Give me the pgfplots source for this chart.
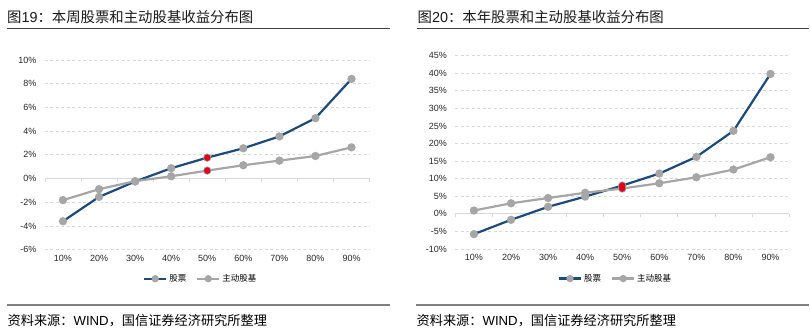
\documentclass[border=0pt]{standalone}
\usepackage{pgfplots}
\pgfplotsset{compat=1.18}
\usepackage{fontspec}
\setmainfont{Liberation Sans}
\newfontfamily\cjk{Noto Sans CJK SC}
\definecolor{cblue}{HTML}{1B4A7C}
\definecolor{cgray}{HTML}{A6A6A6}
\definecolor{cred}{HTML}{E0001E}
\definecolor{cgrid}{HTML}{D9D9D9}
\definecolor{ctxt}{HTML}{262626}
\pgfplotsset{
  mystyle/.style={
    scale only axis,
    axis line style={draw=none},
    tick style={draw=none},
    xmin=-0.5, xmax=8.5,
    xtick={0,...,8},
    xticklabels={10\%,20\%,30\%,40\%,50\%,60\%,70\%,80\%,90\%},
    ymajorgrids,
    major grid style={cgrid, dash pattern=on 3bp off 2.5bp, line width=0.8bp},
    yticklabel={\pgfmathprintnumber{\tick}\%},
    /pgf/number format/assume math mode=true,
    tick label style={font=\fontsize{9bp}{10bp}\selectfont, text=ctxt},
    yticklabel style={xshift=-5bp},
    xticklabel style={yshift=-2bp},
    clip=false,
    legend columns=2,
    legend style={draw=none, fill=none, font=\fontsize{8.5bp}{10bp}\selectfont\cjk,
      /tikz/every even column/.append style={column sep=8bp}, inner sep=0pt},
    legend image code/.code={
      \draw[#1, mark=none] (0bp,0bp) -- (22bp,0bp);
      \draw[#1, only marks, mark size=2.5bp] plot coordinates {(11bp,0bp)};
    },
  },
  blueline/.style={cblue, line width=2.2bp, mark=*, mark size=3bp, mark options={fill=cgray, draw=cgray}},
  grayline/.style={cgray, line width=2.2bp, mark=*, mark size=3bp, mark options={fill=cgray, draw=cgray}},
  redpt/.style={only marks, mark=*, mark size=3bp, cred, mark options={fill=cred, draw=cred}},
}
\begin{document}
\begin{tikzpicture}
\path (0bp,0bp) rectangle (810bp,-334bp);
% titles
\node[anchor=west, inner sep=0pt, text=black!90] at (7bp,-17bp) {\fontsize{14.4bp}{16bp}\selectfont\cjk 图\fontspec{Liberation Sans}19\cjk ：本周股票和主动股基收益分布图};
\node[anchor=west, inner sep=0pt, text=black!90] at (418bp,-17bp) {\fontsize{14.4bp}{16bp}\selectfont\cjk 图\fontspec{Liberation Sans}20\cjk ：本年股票和主动股基收益分布图};
\draw[color=black!75, line width=1.2bp] (7bp,-28.7bp) -- (390bp,-28.7bp);
\draw[color=black!75, line width=1.2bp] (418bp,-28.7bp) -- (810bp,-28.7bp);
\draw[color=black!50, line width=2bp] (7bp,-305bp) -- (390bp,-305bp);
\draw[color=black!50, line width=2bp] (417bp,-305bp) -- (810bp,-305bp);
\node[anchor=west, inner sep=0pt, text=black] at (7.5bp,-321bp) {\fontsize{13.2bp}{15bp}\selectfont\cjk 资料来源：\fontspec{Liberation Sans}WIND\cjk ，国信证券经济研究所整理};
\node[anchor=west, inner sep=0pt, text=black] at (417bp,-321bp) {\fontsize{13.2bp}{15bp}\selectfont\cjk 资料来源：\fontspec{Liberation Sans}WIND\cjk ，国信证券经济研究所整理};

% left chart
\begin{axis}[mystyle, at={(45bp,-250bp)}, anchor=south west,
  width=325bp, height=190bp,
  ymin=-6, ymax=10, ytick={-6,-4,...,10},
  legend style={at={(0.48,-0.153)}, anchor=center}]
\draw[cgrid, line width=1bp] (axis cs:-0.5,0) -- (axis cs:8.5,0);
\pgfplotsinvokeforeach{-0.5,0.5,1.5,2.5,3.5,4.5,5.5,6.5,7.5,8.5}{
  \draw[cgrid, line width=0.8bp] (axis cs:#1,0) -- ++(0bp,-3bp);
}
\addplot[blueline] coordinates {(0,-3.60) (1,-1.55) (2,-0.25) (3,0.87) (4,1.76) (5,2.55) (6,3.55) (7,5.09) (8,8.40)};
\addlegendentry{股票}
\addplot[grayline] coordinates {(0,-1.82) (1,-0.90) (2,-0.22) (3,0.19) (4,0.67) (5,1.12) (6,1.51) (7,1.90) (8,2.63)};
\addlegendentry{主动股基}
\addplot[redpt, forget plot] coordinates {(4,1.76) (4,0.67)};
\end{axis}

% right chart
\begin{axis}[mystyle, at={(456bp,-249.3bp)}, anchor=south west,
  width=334bp, height=193.6bp,
  ymin=-10, ymax=45, ytick={-10,-5,...,45},
  legend style={at={(0.48,-0.153)}, anchor=center}]
\draw[cgrid, line width=1bp] (axis cs:-0.5,0) -- (axis cs:8.5,0);
\pgfplotsinvokeforeach{-0.5,0.5,1.5,2.5,3.5,4.5,5.5,6.5,7.5,8.5}{
  \draw[cgrid, line width=0.8bp] (axis cs:#1,0) -- ++(0bp,-3bp);
}
\addplot[blueline] coordinates {(0,-5.77) (1,-1.70) (2,2.00) (3,4.90) (4,8.05) (5,11.45) (6,16.20) (7,23.60) (8,39.80)};
\addlegendentry{股票}
\addplot[grayline] coordinates {(0,0.95) (1,3.00) (2,4.50) (3,6.00) (4,7.20) (5,8.70) (6,10.40) (7,12.60) (8,16.10)};
\addlegendentry{主动股基}
\addplot[redpt, forget plot] coordinates {(4,8.05) (4,7.20)};
\end{axis}
\end{tikzpicture}
\end{document}
